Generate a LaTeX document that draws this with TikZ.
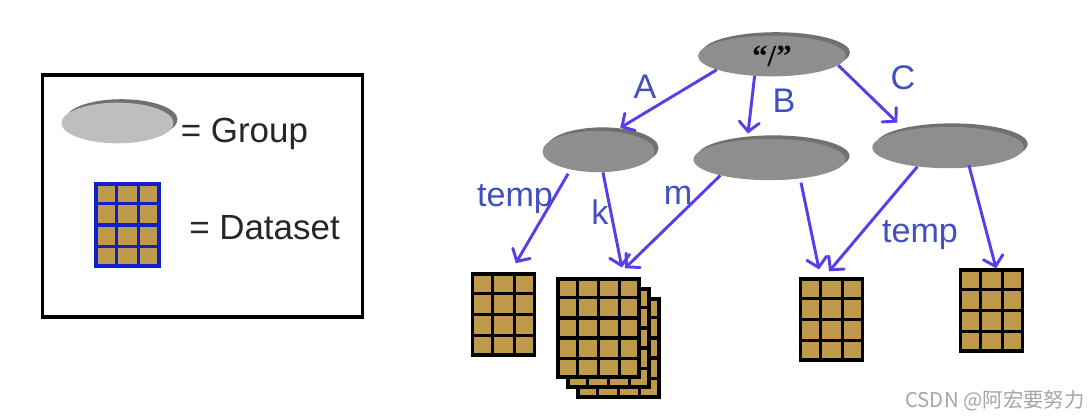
\documentclass[tikz,border=0pt]{standalone}
\usepackage{fontspec}
\setmainfont{Liberation Sans}
\newfontfamily\quotefont{Liberation Serif}
\newfontfamily\cjkfont{Noto Sans CJK SC}
\definecolor{linkblue}{RGB}{90, 60, 232}
\definecolor{labelblue}{RGB}{64, 80, 192}
\definecolor{cellbrown}{RGB}{190, 154, 74}
\definecolor{legendblue}{RGB}{16, 32, 200}
\definecolor{groupgray}{RGB}{142, 142, 142}
\definecolor{shadegray}{RGB}{112, 112, 112}
\definecolor{lightgray}{RGB}{190, 190, 190}
\usetikzlibrary{shapes.geometric, arrows.meta, calc, shadows}

\tikzset{
    groupnode/.style={ellipse, fill=groupgray, inner sep=0pt,
        drop shadow={shadow xshift=3pt, shadow yshift=2.6pt, fill=shadegray, opacity=1}},
    legendgroup/.style={groupnode, fill=lightgray},
    datanode/.style={rectangle, fill=cellbrown, inner sep=0pt, line width=2.6pt},
    link/.style={-{Straight Barb[length=7pt, width=15pt, line cap=round]}, draw=linkblue, line width=2.2pt},
    linklabel/.style={text=labelblue, inner sep=0pt, font=\fontsize{25.6}{30}\selectfont},
    legendtext/.style={text=black!85, inner sep=0pt, font=\fontsize{26.2}{31}\selectfont}
}

% name, centre x, centre y, width, height, columns, rows, line colour
\newcommand{\datagrid}[8]{
    \node[datanode, draw=#8, minimum width=#4*0.75pt, minimum height=#5*0.75pt] (#1) at (#2, #3) {};
    \foreach \i in {1,...,\numexpr#6-1\relax}
        \draw[#8, line width=2.5pt] ($(#1.north west)!\i/#6!(#1.north east)$) -- ($(#1.south west)!\i/#6!(#1.south east)$);
    \foreach \j in {1,...,\numexpr#7-1\relax}
        \draw[#8, line width=2.5pt] ($(#1.north west)!\j/#7!(#1.south west)$) -- ($(#1.north east)!\j/#7!(#1.south east)$);
}

\begin{document}
\begin{tikzpicture}[x=0.75pt, y=-0.75pt]
    \useasboundingbox[fill=white] (0, 0) rectangle (1090, 419);

    % Legend
    \node[draw=black, line width=2.8pt, minimum width=240pt, minimum height=181pt, inner sep=0pt] (legend) at (202.5, 196) {};
    \node[legendgroup, minimum width=84pt, minimum height=30.5pt] (legendgrp) at (117.5, 123) {};
    \node[legendtext, anchor=base west] (grouptext) at (180.5, 142) {= Group};
    \datagrid{legenddata}{127.5}{225}{63}{82}{3}{4}{legendblue}
    \node[legendtext, anchor=base west] (datatext) at (189, 239) {= Dataset};

    % Groups
    \node[groupnode, minimum width=111pt, minimum height=30.5pt, font=\quotefont\bfseries\fontsize{23}{25}\selectfont] (root) at (772, 56) {\raisebox{-3pt}{“/”}};
    \node[groupnode, minimum width=84pt, minimum height=31pt] (grpA) at (598.5, 151.5) {};
    \node[groupnode, minimum width=114pt, minimum height=31pt] (grpB) at (769.5, 159.5) {};
    \node[groupnode, minimum width=113.5pt, minimum height=31pt] (grpC) at (948, 147.5) {};

    % Datasets
    \datagrid{dataT}{503.5}{314.5}{62}{81}{3}{4}{black}
    \datagrid{stackC}{618.5}{348}{81}{98}{4}{5}{black}
    \datagrid{stackB}{608.5}{338}{81}{98}{4}{5}{black}
    \datagrid{stackA}{598.5}{328}{81}{98}{4}{5}{black}
    \datagrid{dataM}{831.5}{319.5}{62}{81}{3}{4}{black}
    \datagrid{dataN}{991.5}{310.5}{62}{81}{3}{4}{black}

    % Links
    \draw[link, shorten >=5.3pt] (root.194) -- (grpA.52);
    \draw[link, shorten >=4.5pt] (root.229) -- (grpB.138.6);
    \draw[link, shorten >=8.2pt] (root.352) -- (grpC.158);
    \draw[link, shorten <=3.5pt, shorten >=7.9pt] (grpA.213) -- ([xshift=5.2pt]dataT.north);
    \draw[link, shorten >=7.5pt] (grpA.282) -- ([xshift=19pt]stackA.north);
    \draw[link, shorten >=9.7pt] (grpB.198) -- ([xshift=12.9pt]stackA.north);
    \draw[link, shorten <=3pt, shorten >=6pt] (grpB.328) -- ([xshift=-8.1pt]dataM.north);
    \draw[link, shorten >=5.9pt] (grpC.212) -- ([xshift=-5.6pt]dataM.north);
    \draw[link, shorten <=-2pt] (grpC.317) -- ([xshift=3.4pt]dataN.north);

    % Labels
    \node[linklabel] (lblA) at (645, 87) {A};
    \node[linklabel] (lblB) at (784, 101) {B};
    \node[linklabel] (lblC) at (903, 78) {C};
    \node[linklabel] (lblTempA) at (515, 199) {temp};
    \node[linklabel] (lblK) at (600, 212) {k};
    \node[linklabel] (lblM) at (678, 195) {m};
    \node[linklabel] (lblTempC) at (920, 235) {temp};

    % Watermark
    \node[text=black!35, inner sep=0pt, font=\cjkfont\fontsize{15.3}{18}\selectfont] (mark) at (995, 401) {CSDN @阿宏要努力};
\end{tikzpicture}
\end{document}
